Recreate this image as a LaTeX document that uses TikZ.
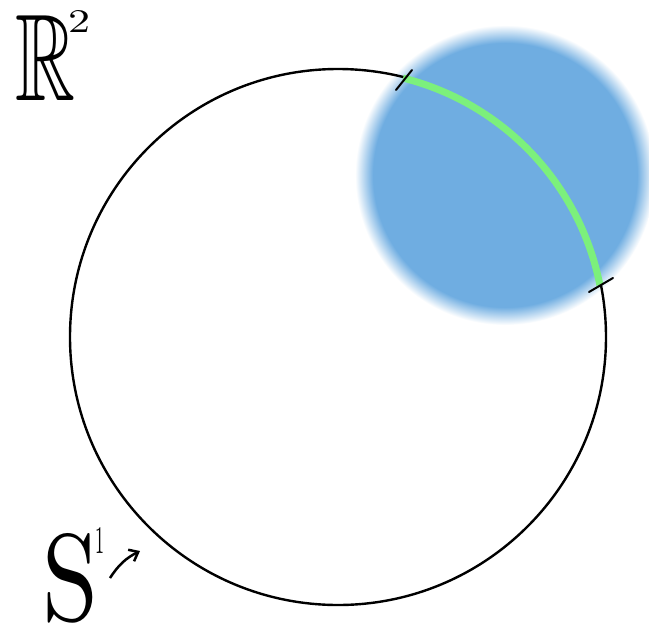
\documentclass[tikz,border=0pt]{standalone}
\usepackage{amssymb,graphicx}
\usetikzlibrary{arrows.meta,calc}
\definecolor{blobblue}{RGB}{111,173,225}
\definecolor{arcgreen}{RGB}{124,240,124}
\pgfdeclareradialshading{blob}{\pgfpoint{0bp}{0bp}}{color(0bp)=(blobblue); color(22bp)=(blobblue); color(25bp)=(white); color(50bp)=(white)}
\tikzset{
  circleline/.style={line width=2.4pt, black},
  greenarc/.style={line width=7pt, arcgreen},
  tickmark/.style={line width=2pt, black, line cap=round},
  biglabel/.style={inner sep=0pt, anchor=base west}
}
\begin{document}
\begin{tikzpicture}[x=1pt,y=-1pt]
\useasboundingbox (0,0) rectangle (649,625);
\fill[white] (0,0) rectangle (649,625);
\coordinate (c) at (338,337);
\coordinate (u) at (505,175);
\shade[shading=blob] (u) circle[radius=150];
\draw[circleline] (c) circle[radius=268];
\draw[greenarc] ($(c)+(-75.9:267)$) coordinate (a1) arc[start angle=-75.9, end angle=-11.2, radius=267] coordinate (a2);
\draw[tickmark] (396,90) -- (412,70);
\draw[tickmark] (589,292) -- (613,278);
\node[biglabel] (R) at (15,100) {\resizebox{60pt}{85pt}{$\mathbb{R}$}\hspace{-7pt}\raisebox{68pt}{\resizebox{22pt}{22pt}{2}}};
\node[biglabel] (S) at (42,620) {\resizebox{56pt}{87pt}{S}\hspace{-3pt}\raisebox{67pt}{\resizebox{9pt}{26pt}{1}}};
\coordinate (p1) at (110,578);
\coordinate (p2) at (140,551);
\draw[line width=2.5pt, -{Straight Barb[length=8pt,width=13pt]}] (p1) to[bend left=15] (p2);
\end{tikzpicture}
\end{document}
